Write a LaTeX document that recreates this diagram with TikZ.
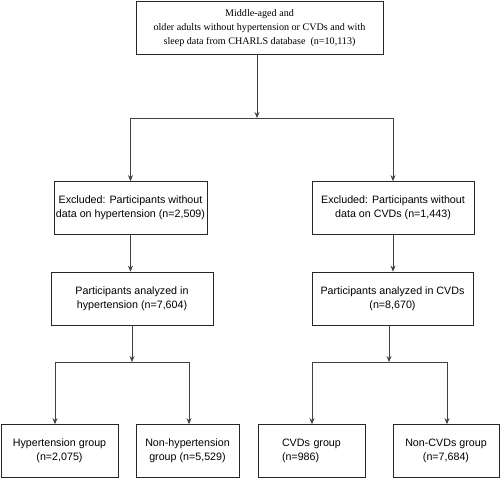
\documentclass[tikz,border=0pt]{standalone}
\usepackage{fontspec}
\setmainfont{Liberation Serif}
\setsansfont{Liberation Sans}
\usetikzlibrary{arrows.meta, positioning}
\tikzset{
  x=1pt, y=-1pt,
  box/.style={draw=black!85, line width=0.7pt, minimum height=53pt, align=center,
    inner sep=2pt, font=\sffamily\fontsize{10.7}{14}\selectfont},
  arr/.style={draw=black!75, line width=0.7pt, -{Stealth[length=6pt,width=5pt]}},
  link/.style={draw=black!75, line width=0.7pt},
}

\begin{document}
\begin{tikzpicture}
        \useasboundingbox (0,0) rectangle (501,479);

        % boxes
        \node[box, minimum width=247pt, font=\rmfamily\fontsize{10.1}{14}\selectfont]
          (all) at (259.5,28) {Middle-aged and\\older adults without hypertension or CVDs and with\\sleep data from CHARLS database\ \ (n=10,113)};
        \node[box, minimum width=153pt] (exhyp) at (130.5,208) {Excluded: Participants without\\data on hypertension (n=2,509)};
        \node[box, minimum width=162pt] (excvd) at (393,208) {Excluded: Participants without\\data on CVDs (n=1,443)};
        \node[box, minimum width=162pt] (anahyp) at (132,298.5) {Participants analyzed in\\hypertension (n=7,604)};
        \node[box, minimum width=161pt] (anacvd) at (392.5,298.5) {Participants analyzed in CVDs\\(n=8,670)};
        \node[box, minimum width=117pt] (hypg) at (59.5,451) {Hypertension group\\(n=2,075)};
        \node[box, minimum width=103pt] (nonhypg) at (187.5,451) {Non-hypertension\\group (n=5,529)};
        \node[box, minimum width=107pt, align=left, text width=59pt, inner xsep=24pt] (cvdg) at (311.5,451) {CVDs group\\(n=986)};
        \node[box, minimum width=106pt] (noncvdg) at (446,451) {Non-CVDs group\\(n=7,684)};

        % junctions
        \coordinate (split) at (257,118);
        \coordinate (hl) at (55,362);
        \coordinate (hr) at (189,362);
        \coordinate (cl) at (312,362);
        \coordinate (cr) at (447,362);

        % arrows
        \draw[arr] (split |- all.south) -- (split);
        \draw[arr] (split) -| (exhyp.north);
        \draw[arr] (split) -| (excvd.north);
        \draw[arr] (exhyp.south) -- (exhyp.south |- anahyp.north);
        \draw[arr] (excvd.south) -- (excvd.south |- anacvd.north);
        \draw[arr] (anahyp.south) -- (anahyp.south |- hl);
        \draw[arr] (anacvd.south -| 389,0) -- (389,362);
        \draw[link] (hl) -- (hr);
        \draw[link] (cl) -- (cr);
        \draw[arr] (hl) -- (hl |- hypg.north);
        \draw[arr] (hr) -- (hr |- nonhypg.north);
        \draw[arr] (cl) -- (cl |- cvdg.north);
        \draw[arr] (cr) -- (cr |- noncvdg.north);
\end{tikzpicture}
\end{document}
